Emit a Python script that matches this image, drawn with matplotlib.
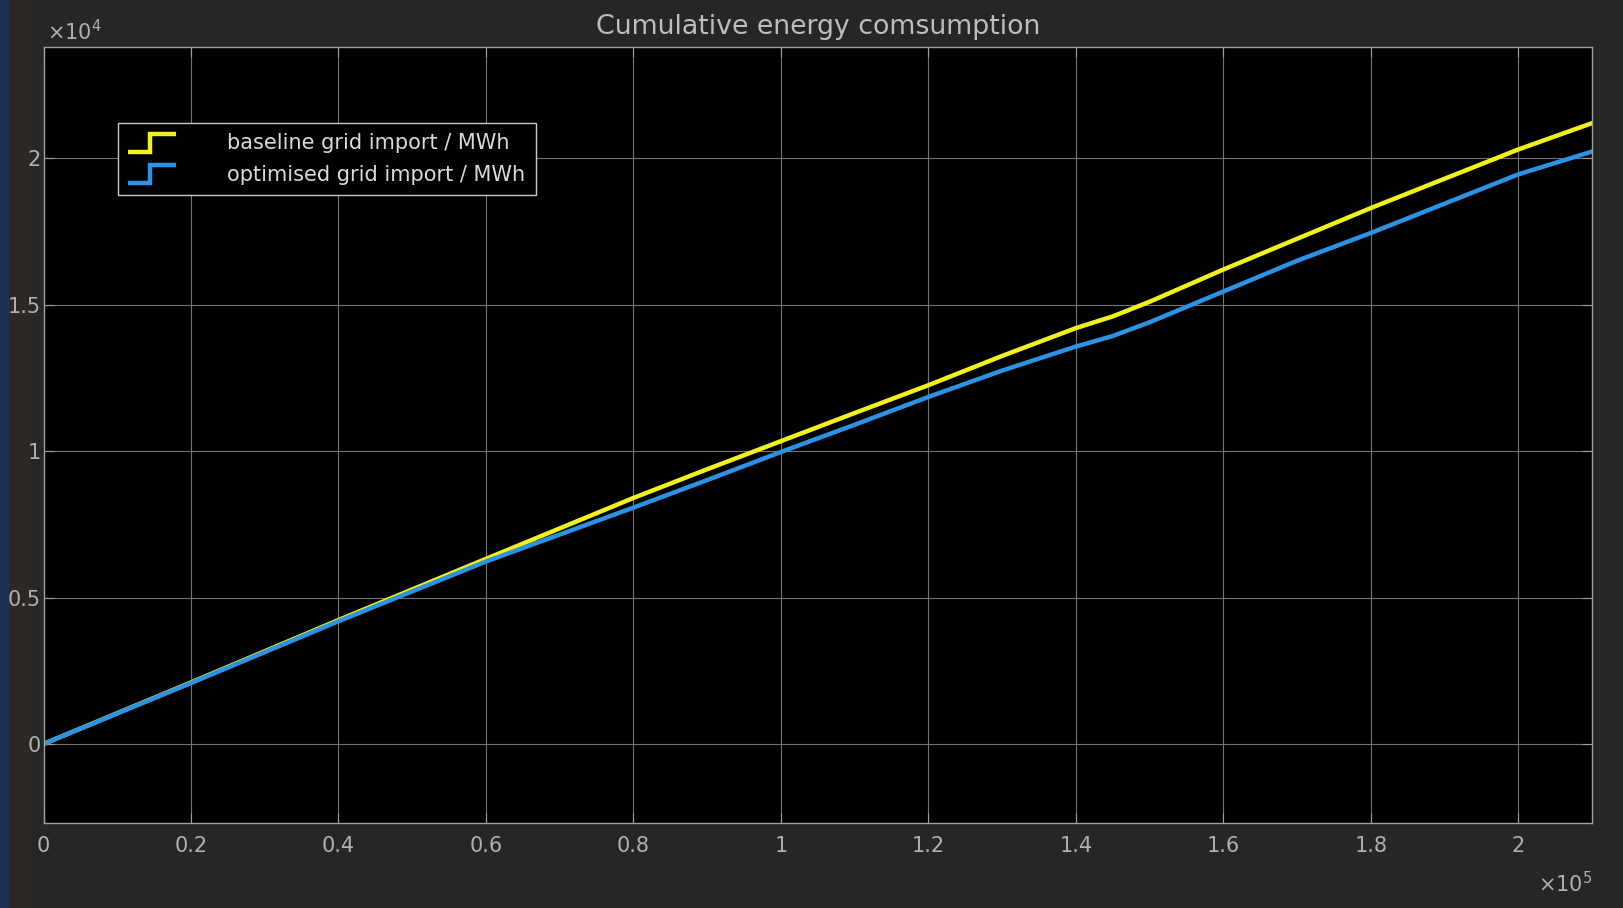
import matplotlib
matplotlib.use("Agg")
import matplotlib.pyplot as plt
from matplotlib.lines import Line2D
from matplotlib.legend_handler import HandlerBase
from matplotlib.patches import Rectangle
from matplotlib.ticker import FuncFormatter

# ---- data ----
time_vals = [0, 20000, 40000, 60000, 70000, 80000, 90000, 100000, 110000, 120000,
             130000, 140000, 145000, 150000, 160000, 170000, 180000, 190000, 200000, 210000]
baseline_mwh = [0, 2100, 4230, 6320, 7360, 8400, 9380, 10340, 11300, 12250,
                13250, 14200, 14600, 15100, 16200, 17250, 18300, 19300, 20300, 21200]
optimised_mwh = [0, 2080, 4190, 6230, 7150, 8070, 9010, 9970, 10900, 11850,
                 12750, 13570, 13930, 14400, 15450, 16500, 17450, 18450, 19450, 20230]
series_labels = ["baseline grid import / MWh", "optimised grid import / MWh"]
title_text = "Cumulative energy comsumption"
x_ticks = [0, 20000, 40000, 60000, 80000, 100000, 120000, 140000, 160000, 180000, 200000]
y_ticks = [0, 5000, 10000, 15000, 20000]

W, H = 1623, 908
fig = plt.figure(figsize=(W / 100, H / 100), dpi=100)
fig.patch.set_facecolor("#262626")
plt.rcParams["font.family"] = ["DejaVu Sans"]
plt.rcParams["mathtext.fontset"] = "dejavusans"

# left window border strips
fig.add_artist(Rectangle((0, 0), 9 / W, 1, transform=fig.transFigure,
                         facecolor="#1d3150", edgecolor="none", zorder=-5))
fig.add_artist(Rectangle((9 / W, 0), 22 / W, 1, transform=fig.transFigure,
                         facecolor="#2d2825", edgecolor="none", zorder=-5))

L, R, T, B = 43.5, 1592, 47, 823
ax = fig.add_axes([L / W, 1 - B / H, (R - L) / W, (B - T) / H])
ax.set_facecolor("black")

yellow = "#f2f21a"
blue = "#2a93e6"
l1, = ax.plot(time_vals, baseline_mwh, color=yellow, lw=3.2, label=series_labels[0],
              solid_capstyle="round", solid_joinstyle="round")
l2, = ax.plot(time_vals, optimised_mwh, color=blue, lw=3.2, label=series_labels[1],
              solid_capstyle="round", solid_joinstyle="round")

ax.set_xlim(0, 210000)
ax.set_ylim(-2700, 23800)
ax.set_xticks(x_ticks)
ax.set_yticks(y_ticks)
ax.xaxis.set_major_formatter(FuncFormatter(lambda v, p: f"{v / 1e5:g}"))
ax.yaxis.set_major_formatter(FuncFormatter(lambda v, p: f"{v / 1e4:g}"))

tick_col = "#b0b0b0"
ax.tick_params(axis="both", direction="in", length=7, width=0.8, color="#a0a0a0",
               labelcolor=tick_col, labelsize=15, top=True, right=True)
ax.tick_params(axis="x", pad=9)
ax.tick_params(axis="y", pad=2)
ax.grid(True, color="#747474", lw=0.8)
ax.set_axisbelow(True)
for s in ax.spines.values():
    s.set_color("#a0a0a0")
    s.set_linewidth(1.0)

ax.set_title(title_text, color="#bdbdbd", fontsize=19.3, pad=9)

ax.text(0.002, 1.004, r"$\times10^{4}$", transform=ax.transAxes, ha="left", va="bottom",
        color=tick_col, fontsize=15)
ax.text(1.0, -0.062, r"$\times10^{5}$", transform=ax.transAxes, ha="right", va="top",
        color=tick_col, fontsize=15)


class StepHandler(HandlerBase):
    def create_artists(self, legend, orig_handle, xdescent, ydescent, width, height,
                       fontsize, trans):
        x0 = -xdescent
        x1 = x0 + width
        xm = x0 + width * 0.45
        y0 = -ydescent - height * 0.05
        y1 = -ydescent + height * 1.0
        ln = Line2D([x0, xm, xm, x1], [y0, y0, y1, y1], color=orig_handle.get_color(),
                    lw=orig_handle.get_linewidth(), solid_joinstyle="miter",
                    solid_capstyle="butt")
        ln.set_transform(trans)
        return [ln]


leg = ax.legend(handles=[l1, l2], loc="upper left",
                bbox_to_anchor=(118 / W, 1 - 123 / H), bbox_transform=fig.transFigure,
                borderaxespad=0, fontsize=15.0, frameon=True, fancybox=False,
                handler_map={Line2D: StepHandler()}, handlelength=2.3,
                handleheight=0.9, handletextpad=2.45, labelspacing=0.55, borderpad=0.5)
leg.get_frame().set_facecolor("black")
leg.get_frame().set_edgecolor("#c8c8c8")
leg.get_frame().set_linewidth(1.0)
leg.get_frame().set_alpha(1)
for t in leg.get_texts():
    t.set_color("#dadada")

fig.savefig("out.png", dpi=100, facecolor=fig.get_facecolor())
